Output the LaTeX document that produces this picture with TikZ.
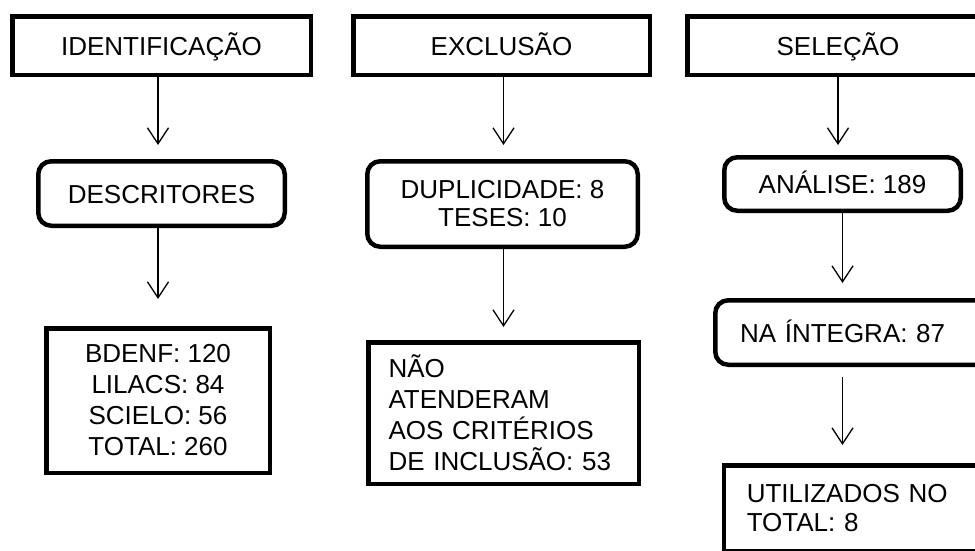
\documentclass[tikz,border=0pt]{standalone}
\usepackage{fontspec}
\setmainfont{Liberation Sans}
\usetikzlibrary{arrows.meta,positioning}

\begin{document}
\begin{tikzpicture}[x=1pt,y=-1pt,>={Straight Barb[length=16pt,width=21pt]},
  every node/.style={font=\fontsize{26}{31}\selectfont,draw,line width=4.5pt,align=center,inner sep=0pt},
  oneline/.style={text height=19pt,text depth=0pt},
  stage/.style={oneline,minimum height=58.5pt},
  roundbox/.style={rounded corners=13pt},
  leftbox/.style={align=left},
  flow/.style={->,line width=1.3pt}]
  \clip (0,0) rectangle (975,550);

  % top row
  \node[stage,minimum width=298.5pt] (ident) at (161.5,45.5) {IDENTIFICAÇÃO};
  \node[stage,minimum width=296.5pt] (excl) at (501.5,45.5) {EXCLUSÃO};
  \node[stage,minimum width=301.5pt] (sel) at (838,45.5) {SELEÇÃO};

  % second row
  \node[roundbox,oneline,minimum width=246.5pt,minimum height=64.5pt] (descr) at (161.5,193.5) {DESCRITORES};
  \node[roundbox,minimum width=270.5pt,minimum height=85.5pt] (dupl) at (502.5,204) {DUPLICIDADE: 8\\[-3pt]TESES: 10};
  \node[roundbox,oneline,minimum width=236.5pt,minimum height=53.5pt] (anal) at (842.5,184) {ANÁLISE: 189};

  % results
  \node[minimum width=223.5pt,minimum height=144.5pt] (bases) at (158,400.5) {BDENF: 120\\LILACS: 84\\SCIELO: 56\\TOTAL: 260};
  \node[leftbox,text width=230pt,inner xsep=20.25pt,minimum height=141.5pt] (naoat) at (503.5,413) {NÃO\\ATENDERAM\\AOS CRITÉRIOS\\DE INCLUSÃO: 53};
  \node[roundbox,oneline,leftbox,text width=233pt,inner xsep=24.75pt,minimum height=64.5pt] (integ) at (856.5,332.5) {NA ÍNTEGRA: 87};
  \node[leftbox,text width=228.5pt,inner xsep=22.75pt,minimum height=85.5pt] (util) at (861,508) {UTILIZADOS NO\\[-2pt]TOTAL: 8};

  % connectors
  \draw[flow,shorten >=14pt] (ident.south -| bases.north) -- (descr.north -| bases.north);
  \draw[flow,shorten >=27pt] (descr.south -| bases.north) -- (bases.north);
  \draw[flow,shorten >=14pt] (excl.south -| naoat.north) -- (dupl.north -| naoat.north);
  \draw[flow,shorten >=13pt] (dupl.south -| naoat.north) -- (naoat.north);
  \draw[flow,shorten >=10pt] (sel.south) -- (anal.north -| sel.south);
  \draw[flow,shorten >=15pt] (anal.south) -- (anal.south |- integ.north);
  \draw[flow,shorten <=10pt,shorten >=18pt] (integ.south -| anal.south) -- (util.north -| anal.south);
\end{tikzpicture}
\end{document}
